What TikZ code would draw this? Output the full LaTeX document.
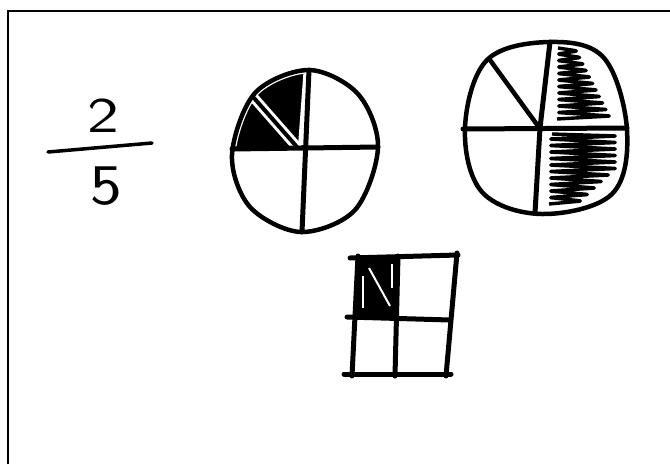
\documentclass[tikz,border=0pt]{standalone}
\usetikzlibrary{positioning}
\newcommand\eggone{plot[smooth cycle,tension=0.55] coordinates {(309,70) (358,94) (378,147) (355,210) (301,232) (250,207) (232,155) (255,93)}}
\newcommand\eggtwo{plot[smooth cycle,tension=0.6] coordinates {(550,42) (604,58) (627,130) (612,194) (542,214) (482,192) (465,128) (487,60)}}
\begin{document}
\begin{tikzpicture}[x=1pt,y=-1pt,
  ink/.style={line width=5pt,line cap=round,line join=round},
  rim/.style={line width=4.5pt,line join=round},
  halo/.style={white,line width=10pt,line cap=round},
  scrib/.style={line width=3.4pt,line join=round,rounded corners=3pt},
  digit/.style={font=\sffamily\fontsize{50}{50}\selectfont,inner sep=0pt,xscale=1.35}]
\useasboundingbox (0,0) rectangle (670,464);
\draw[line width=2pt] (7.5,464) -- (7.5,10.5) -- (670,10.5);

% two fifths
\node[digit] (two) at (103,116) {2};
\node[digit,yscale=1.15] (five) at (106,186) {5};
\coordinate (barL) at (48,152);
\coordinate (barR) at (152,143);
\draw[line width=3.5pt,line cap=round] (barL) -- (barR);

% first circle
\begin{scope}
\clip \eggone;
\fill (215,149) -- (215,80) -- (245,86) -- (298,149) -- cycle;
\fill (245,86) -- (301,149) -- (307,149) -- (312,60) -- (245,60) -- cycle;
\end{scope}
\draw[halo] (254,98) -- (297,147);
\draw[white,line width=11pt] (309,72) -- (303.6,145);
\draw[white,line width=7pt] \eggone;
\draw[rim] \eggone;
\draw[ink] (232,149) -- (378,147);
\draw[ink] (309,70) -- (302,232);
\draw[line width=4pt,line cap=round] (254,98) -- (297,147);

% second circle
\begin{scope}
\clip \eggtwo;
\draw[scrib] (558,48) \foreach \k in {0,...,10} { -- ({578+3.3*\k},{51+6.5*\k}) -- (557,{54+6.5*\k}) };
\draw[scrib] (552,134) \foreach \k in {0,...,10} { -- ({617-7*max(0,\k-5)},{136+6.5*\k}) -- (549,{139+6.5*\k}) };
\end{scope}
\draw[rim] \eggtwo;
\draw[ink] (463,129) -- (627,128);
\draw[ink] (550,42) -- (540,128) -- (535,213);
\draw[ink,line width=4.5pt] (490,60) -- (538,126);

% grid
\fill (358,258) -- (399,258) -- (397,318) -- (355,317) -- cycle;
\draw[white,line width=2pt] (363,276) -- (363,308);
\draw[white,line width=2pt] (369,268) -- (390,306);
\draw[white,line width=1.5pt] (392,264) -- (392,288);
\draw[ink] (350,258) -- (458,255);
\draw[ink] (347,317) -- (450,320);
\draw[ink] (344,374) -- (451,374);
\draw[ink] (358,256) -- (352,376);
\draw[ink] (398,256) -- (395,376);
\draw[ink] (457,253) -- (446,376);
\end{tikzpicture}
\end{document}
